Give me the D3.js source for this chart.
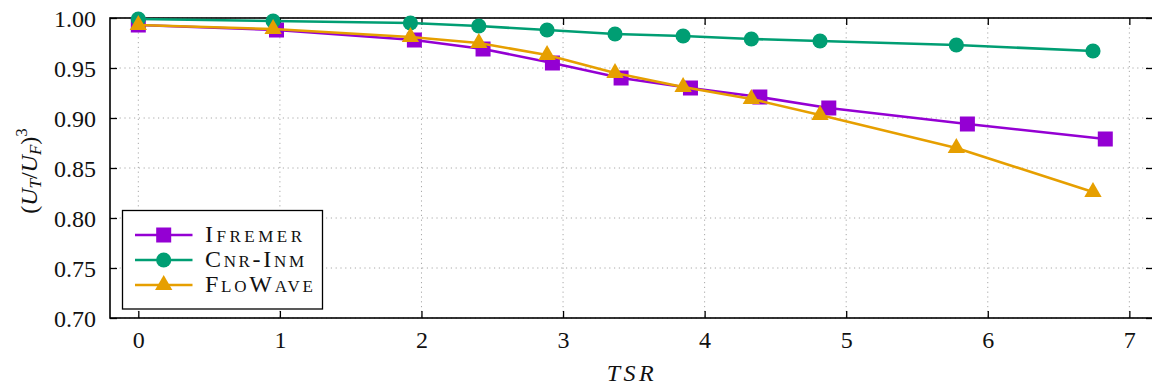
<!DOCTYPE html>
<html><head><meta charset="utf-8">
<script src="https://cdn.jsdelivr.net/npm/d3@7"></script>
<style>
html,body{margin:0;padding:0;background:#fff;}
svg text{font-family:"Liberation Serif","Times New Roman",serif;}
</style></head>
<body><svg id="c" width="1152" height="388"></svg>
<script>
// ---- data ----
const ifremerTSR = [0, 0.976, 1.95, 2.435, 2.925, 3.41, 3.90, 4.39, 4.877, 5.856, 6.83];
const ifremerVal = [0.993, 0.988, 0.978, 0.969, 0.955, 0.940, 0.930, 0.921, 0.910, 0.894, 0.879];
const cnrTSR = [0, 0.952, 1.922, 2.405, 2.887, 3.367, 3.848, 4.33, 4.815, 5.778, 6.743];
const cnrVal = [0.999, 0.997, 0.995, 0.992, 0.988, 0.984, 0.982, 0.979, 0.977, 0.973, 0.967];
const flowaveTSR = [0, 0.952, 1.922, 2.405, 2.887, 3.367, 3.848, 4.33, 4.815, 5.778, 6.743];
const flowaveVal = [0.993, 0.989, 0.981, 0.975, 0.963, 0.945, 0.931, 0.919, 0.903, 0.870, 0.826];
const seriesNames = ["Ifremer", "Cnr-Inm", "FloWave"];
const xTicks = [0, 1, 2, 3, 4, 5, 6, 7];
const yTicks = [0.70, 0.75, 0.80, 0.85, 0.90, 0.95, 1.00];

const series = [
  {name: seriesNames[0], xs: ifremerTSR, ys: ifremerVal, color: "#9400D3", sym: "square", w: 97},
  {name: seriesNames[1], xs: cnrTSR, ys: cnrVal, color: "#009E73", sym: "circle", w: 99},
  {name: seriesNames[2], xs: flowaveTSR, ys: flowaveVal, color: "#E69F00", sym: "triangle", w: 108}
];

const svg = d3.select("#c");
const L = 110, R = 1153, T = 18, B = 318;
const x = d3.scaleLinear().domain([-0.2, 7.167]).range([L, R]);
const y = d3.scaleLinear().domain([0.70, 1.00]).range([B, T]);
const fs = 24;

// grid
const g = svg.append("g");
g.selectAll(".gx").data(xTicks).join("line")
  .attr("x1", d => x(d)).attr("x2", d => x(d)).attr("y1", T).attr("y2", B)
  .attr("stroke", "#a8a8a8").attr("stroke-width", 1).attr("stroke-dasharray", "1.2,3.6");
g.selectAll(".gy").data(yTicks).join("line")
  .attr("y1", d => y(d)).attr("y2", d => y(d)).attr("x1", L).attr("x2", R)
  .attr("stroke", "#a8a8a8").attr("stroke-width", 1).attr("stroke-dasharray", "1.2,3.6");

// axes via d3 axis (inward ticks)
const tl = 7;
const fmtY = d3.format(".2f");
const axB = svg.append("g").attr("transform", `translate(0,${B})`)
  .call(d3.axisBottom(x).tickValues(xTicks).tickSize(-tl).tickPadding(12).tickFormat(d3.format("d")));
const axT = svg.append("g").attr("transform", `translate(0,${T})`)
  .call(d3.axisTop(x).tickValues(xTicks).tickSize(-tl).tickFormat(""));
const axL = svg.append("g").attr("transform", `translate(${L},0)`)
  .call(d3.axisLeft(y).tickValues(yTicks).tickSize(-tl).tickPadding(14).tickFormat(fmtY));
const axR = svg.append("g").attr("transform", `translate(${R},0)`)
  .call(d3.axisRight(y).tickValues(yTicks).tickSize(-tl).tickFormat(""));
[axB, axT, axL, axR].forEach(a => {
  a.attr("font-family", null).attr("font-size", null);
  a.select(".domain").remove();
  a.selectAll(".tick line").attr("stroke", "#000").attr("stroke-width", 1.3);
  a.selectAll("text").attr("font-size", fs).attr("fill", "#111");
});
axB.selectAll("text").attr("dy", "0.75em");
axL.selectAll("text").attr("dy", "0.34em");
// frame
svg.append("rect").attr("x", L).attr("y", T).attr("width", R - L).attr("height", B - T)
  .attr("fill", "none").attr("stroke", "#000").attr("stroke-width", 1.6);

// symbols
function drawMarker(sel, sym, color, cx, cy) {
  if (sym === "square") {
    sel.append("rect").attr("x", cx - 7.5).attr("y", cy - 7.5).attr("width", 15).attr("height", 15).attr("fill", color);
  } else if (sym === "circle") {
    sel.append("circle").attr("cx", cx).attr("cy", cy).attr("r", 7.6).attr("fill", color);
  } else {
    const r = 10;
    const pts = [[cx, cy - r], [cx + r * Math.sin(Math.PI / 3), cy + r / 2], [cx - r * Math.sin(Math.PI / 3), cy + r / 2]];
    sel.append("polygon").attr("points", pts.map(p => p.join(",")).join(" ")).attr("fill", color);
  }
}

const line = d3.line().x(d => x(d[0])).y(d => y(d[1]));
series.forEach(s => {
  const pts = s.xs.map((v, i) => [v, s.ys[i]]);
  const gs = svg.append("g");
  gs.append("path").attr("d", line(pts)).attr("fill", "none").attr("stroke", s.color)
    .attr("stroke-width", 2.6).attr("stroke-linejoin", "round");
  pts.forEach(p => drawMarker(gs, s.sym, s.color, x(p[0]), y(p[1])));
});

// legend
const lg = svg.append("g");
lg.append("rect").attr("x", 122.5).attr("y", 210.5).attr("width", 200).attr("height", 98.5)
  .attr("fill", "#fff").attr("stroke", "#000").attr("stroke-width", 1.3);
series.forEach((s, i) => {
  const cy = 235 + i * 25;
  lg.append("line").attr("x1", 135).attr("x2", 192.5).attr("y1", cy).attr("y2", cy)
    .attr("stroke", s.color).attr("stroke-width", 2.6);
  drawMarker(lg, s.sym, s.color, 163.7, cy);
  lg.append("text").attr("x", 205).attr("y", cy + 7.3).attr("font-size", 24)
    .attr("font-variant", "small-caps").attr("fill", "#111")
    .attr("textLength", s.w).attr("lengthAdjust", "spacing").text(s.name);
});

// axis titles
svg.append("text").attr("x", 632).attr("y", 381).attr("text-anchor", "middle")
  .attr("font-size", fs).attr("font-style", "italic").attr("fill", "#111").attr("letter-spacing", "3.5").text("TSR");

const yl = svg.append("text").attr("transform", `translate(37,171) rotate(-90)`)
  .attr("text-anchor", "middle").attr("font-size", fs).attr("fill", "#111");
yl.append("tspan").text("(");
yl.append("tspan").attr("font-style", "italic").text("U");
yl.append("tspan").attr("font-style", "italic").attr("font-size", 17).attr("dy", 4).text("T");
yl.append("tspan").attr("dy", -4).text("/");
yl.append("tspan").attr("font-style", "italic").text("U");
yl.append("tspan").attr("font-style", "italic").attr("font-size", 17).attr("dy", 4).text("F");
yl.append("tspan").attr("dy", -4).text(")");
yl.append("tspan").attr("font-size", 17).attr("dy", -10).text("3");
</script></body></html>
